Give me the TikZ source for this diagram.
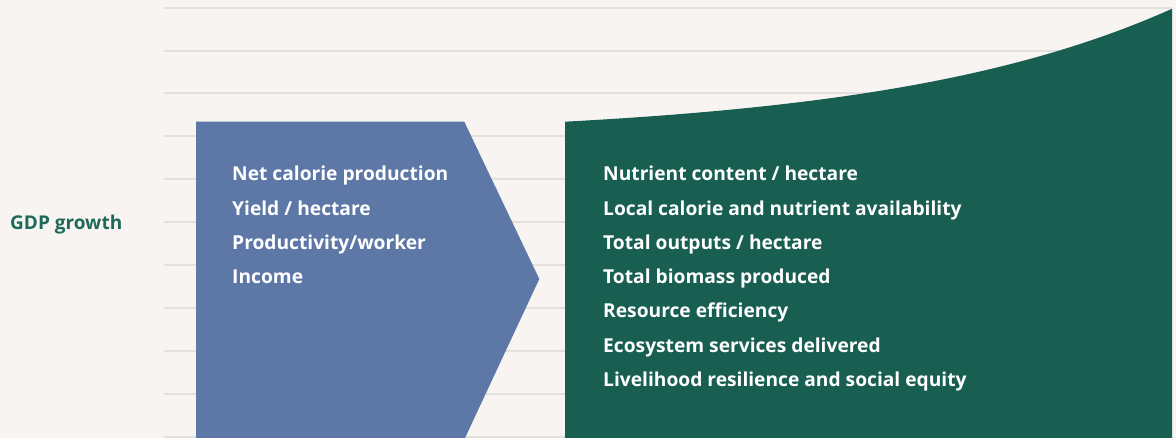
\documentclass[tikz,border=0pt]{standalone}
\usepackage{fontspec}
\setmainfont{Open Sans}
\definecolor{bg}{HTML}{F8F4F1}
\definecolor{gridc}{HTML}{E2DFDC}
\definecolor{bluec}{HTML}{5D77A7}
\definecolor{greenc}{HTML}{185F52}
\definecolor{gdpc}{HTML}{1D6A5A}
\tikzset{
  lbl/.style={anchor=base west, inner sep=0pt, text=white, font=\bfseries\fontsize{19.2}{22}\selectfont},
  gridline/.style={draw=gridc, line width=2pt},
}
\begin{document}
\begin{tikzpicture}[x=1pt,y=-1pt]
\fill[bg] (0,0) rectangle (1176,438);
\useasboundingbox (0,0) rectangle (1176,438);
\foreach \i in {0,...,10}{
  \draw[gridline] (164,{7.7+42.9*\i}) -- (1172,{7.7+42.9*\i});
}
% blue arrow shape
\fill[bluec] (196,121.7) -- (464.3,121.7) -- (539.3,279) -- (465,438) -- (196,438) -- cycle;
% green growth shape
\fill[greenc] (565,438) -- (565,121.7)
  -- plot[domain=0:607, samples=120] ({565+\x}, {121.7-15.39*(exp(0.0035*\x)-1)})
  -- (1172,438) -- cycle;
\node[anchor=base west, inner sep=0pt, text=gdpc, font=\bfseries\fontsize{19}{22}\selectfont] (gdp) at (10,229.5) {GDP growth};
\node[lbl] (l1) at (232,180.8) {Net calorie production};
\node[lbl] (l2) at (232,215.1) {Yield / hectare};
\node[lbl] (l3) at (232,249.4) {Productivity/worker};
\node[lbl] (l4) at (232,283.7) {Income};
\node[lbl] (r1) at (603,180.8) {Nutrient content / hectare};
\node[lbl] (r2) at (603,215.1) {Local calorie and nutrient availability};
\node[lbl] (r3) at (603,249.4) {Total outputs / hectare};
\node[lbl] (r4) at (603,283.7) {Total biomass produced};
\node[lbl] (r5) at (603,318.0) {Resource efficiency};
\node[lbl] (r6) at (603,352.3) {Ecosystem services delivered};
\node[lbl] (r7) at (603,386.6) {Livelihood resilience and social equity};
\end{tikzpicture}
\end{document}
